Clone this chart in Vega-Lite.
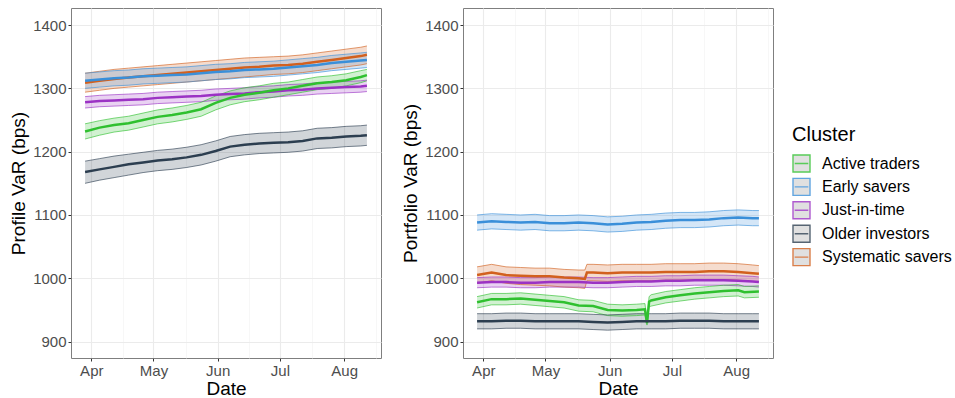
{
  "$schema": "https://vega.github.io/schema/vega-lite/v6.json",
  "background": "white",
  "padding": {"left": 9, "top": 7, "right": 5, "bottom": 5},
  "config": {
    "font": "Liberation Sans",
    "view": {"stroke": "#7f7f7f", "strokeWidth": 1},
    "axis": {
      "labelFont": "Liberation Sans", "labelFontSize": 15, "labelColor": "#4d4d4d",
      "titleFont": "Liberation Sans", "titleFontSize": 19, "titleFontWeight": "normal", "titleColor": "#000000",
      "tickColor": "#333333", "tickSize": 3, "domain": false, "labelPadding": 2, "titlePadding": 4
    },
    "axisX": {"titlePadding": 1},
    "legend": {
      "titleFont": "Liberation Sans", "titleFontSize": 20, "titleFontWeight": "normal", "titleColor": "#000000",
      "labelFont": "Liberation Sans", "labelFontSize": 16, "labelColor": "#000000",
      "symbolFillColor": "#d9d9d9"
    }
  },
  "datasets": {
    "profile": [
      {"cluster":"Systematic savers","date":"2021-03-29","var":1309,"lower":1294,"upper":1324},
      {"cluster":"Systematic savers","date":"2021-04-05","var":1312,"lower":1297,"upper":1327},
      {"cluster":"Systematic savers","date":"2021-04-12","var":1315,"lower":1300,"upper":1330},
      {"cluster":"Systematic savers","date":"2021-04-19","var":1317,"lower":1302,"upper":1332},
      {"cluster":"Systematic savers","date":"2021-04-26","var":1319,"lower":1304,"upper":1334},
      {"cluster":"Systematic savers","date":"2021-05-03","var":1321,"lower":1306,"upper":1336},
      {"cluster":"Systematic savers","date":"2021-05-10","var":1323,"lower":1308,"upper":1338},
      {"cluster":"Systematic savers","date":"2021-05-17","var":1325,"lower":1310,"upper":1340},
      {"cluster":"Systematic savers","date":"2021-05-24","var":1327,"lower":1312,"upper":1342},
      {"cluster":"Systematic savers","date":"2021-05-31","var":1329,"lower":1314,"upper":1344},
      {"cluster":"Systematic savers","date":"2021-06-07","var":1331,"lower":1316,"upper":1346},
      {"cluster":"Systematic savers","date":"2021-06-14","var":1333,"lower":1318,"upper":1348},
      {"cluster":"Systematic savers","date":"2021-06-21","var":1334,"lower":1320,"upper":1349},
      {"cluster":"Systematic savers","date":"2021-06-28","var":1336,"lower":1322,"upper":1350},
      {"cluster":"Systematic savers","date":"2021-07-05","var":1337,"lower":1323,"upper":1351},
      {"cluster":"Systematic savers","date":"2021-07-12","var":1339,"lower":1325,"upper":1353},
      {"cluster":"Systematic savers","date":"2021-07-19","var":1342,"lower":1328,"upper":1356},
      {"cluster":"Systematic savers","date":"2021-07-26","var":1345,"lower":1331,"upper":1359},
      {"cluster":"Systematic savers","date":"2021-08-02","var":1348,"lower":1334,"upper":1362},
      {"cluster":"Systematic savers","date":"2021-08-09","var":1351,"lower":1337,"upper":1365},
      {"cluster":"Systematic savers","date":"2021-08-12","var":1353,"lower":1339,"upper":1367},

      {"cluster":"Early savers","date":"2021-03-29","var":1312,"lower":1300,"upper":1324},
      {"cluster":"Early savers","date":"2021-04-05","var":1314,"lower":1302,"upper":1326},
      {"cluster":"Early savers","date":"2021-04-12","var":1316,"lower":1304,"upper":1328},
      {"cluster":"Early savers","date":"2021-04-19","var":1317,"lower":1305,"upper":1329},
      {"cluster":"Early savers","date":"2021-04-26","var":1319,"lower":1307,"upper":1331},
      {"cluster":"Early savers","date":"2021-05-03","var":1320,"lower":1308,"upper":1332},
      {"cluster":"Early savers","date":"2021-05-10","var":1321,"lower":1309,"upper":1333},
      {"cluster":"Early savers","date":"2021-05-17","var":1322,"lower":1310,"upper":1334},
      {"cluster":"Early savers","date":"2021-05-24","var":1324,"lower":1312,"upper":1336},
      {"cluster":"Early savers","date":"2021-05-31","var":1326,"lower":1314,"upper":1338},
      {"cluster":"Early savers","date":"2021-06-07","var":1327,"lower":1315,"upper":1339},
      {"cluster":"Early savers","date":"2021-06-14","var":1329,"lower":1317,"upper":1341},
      {"cluster":"Early savers","date":"2021-06-21","var":1330,"lower":1318,"upper":1342},
      {"cluster":"Early savers","date":"2021-06-28","var":1331,"lower":1319,"upper":1343},
      {"cluster":"Early savers","date":"2021-07-05","var":1333,"lower":1321,"upper":1345},
      {"cluster":"Early savers","date":"2021-07-12","var":1335,"lower":1323,"upper":1347},
      {"cluster":"Early savers","date":"2021-07-19","var":1337,"lower":1325,"upper":1349},
      {"cluster":"Early savers","date":"2021-07-26","var":1340,"lower":1328,"upper":1352},
      {"cluster":"Early savers","date":"2021-08-02","var":1342,"lower":1330,"upper":1354},
      {"cluster":"Early savers","date":"2021-08-09","var":1344,"lower":1332,"upper":1356},
      {"cluster":"Early savers","date":"2021-08-12","var":1345,"lower":1333,"upper":1357},

      {"cluster":"Just-in-time","date":"2021-03-29","var":1278,"lower":1269,"upper":1287},
      {"cluster":"Just-in-time","date":"2021-04-05","var":1280,"lower":1271,"upper":1289},
      {"cluster":"Just-in-time","date":"2021-04-12","var":1281,"lower":1272,"upper":1290},
      {"cluster":"Just-in-time","date":"2021-04-19","var":1282,"lower":1273,"upper":1291},
      {"cluster":"Just-in-time","date":"2021-04-26","var":1283,"lower":1274,"upper":1292},
      {"cluster":"Just-in-time","date":"2021-05-03","var":1285,"lower":1276,"upper":1294},
      {"cluster":"Just-in-time","date":"2021-05-10","var":1286,"lower":1277,"upper":1295},
      {"cluster":"Just-in-time","date":"2021-05-17","var":1287,"lower":1278,"upper":1296},
      {"cluster":"Just-in-time","date":"2021-05-24","var":1288,"lower":1279,"upper":1297},
      {"cluster":"Just-in-time","date":"2021-05-31","var":1290,"lower":1281,"upper":1299},
      {"cluster":"Just-in-time","date":"2021-06-07","var":1291,"lower":1282,"upper":1300},
      {"cluster":"Just-in-time","date":"2021-06-14","var":1292,"lower":1283,"upper":1301},
      {"cluster":"Just-in-time","date":"2021-06-21","var":1294,"lower":1285,"upper":1303},
      {"cluster":"Just-in-time","date":"2021-06-28","var":1295,"lower":1286,"upper":1304},
      {"cluster":"Just-in-time","date":"2021-07-05","var":1297,"lower":1288,"upper":1306},
      {"cluster":"Just-in-time","date":"2021-07-12","var":1298,"lower":1289,"upper":1307},
      {"cluster":"Just-in-time","date":"2021-07-19","var":1300,"lower":1291,"upper":1309},
      {"cluster":"Just-in-time","date":"2021-07-26","var":1301,"lower":1292,"upper":1310},
      {"cluster":"Just-in-time","date":"2021-08-02","var":1302,"lower":1293,"upper":1311},
      {"cluster":"Just-in-time","date":"2021-08-09","var":1303,"lower":1294,"upper":1312},
      {"cluster":"Just-in-time","date":"2021-08-12","var":1304,"lower":1295,"upper":1313},

      {"cluster":"Active traders","date":"2021-03-29","var":1232,"lower":1220,"upper":1244},
      {"cluster":"Active traders","date":"2021-04-05","var":1238,"lower":1226,"upper":1249},
      {"cluster":"Active traders","date":"2021-04-12","var":1242,"lower":1231,"upper":1253},
      {"cluster":"Active traders","date":"2021-04-19","var":1245,"lower":1234,"upper":1256},
      {"cluster":"Active traders","date":"2021-04-26","var":1250,"lower":1239,"upper":1261},
      {"cluster":"Active traders","date":"2021-05-03","var":1255,"lower":1244,"upper":1266},
      {"cluster":"Active traders","date":"2021-05-10","var":1258,"lower":1247,"upper":1269},
      {"cluster":"Active traders","date":"2021-05-17","var":1262,"lower":1251,"upper":1273},
      {"cluster":"Active traders","date":"2021-05-24","var":1267,"lower":1256,"upper":1278},
      {"cluster":"Active traders","date":"2021-05-31","var":1277,"lower":1266,"upper":1288},
      {"cluster":"Active traders","date":"2021-06-07","var":1285,"lower":1274,"upper":1296},
      {"cluster":"Active traders","date":"2021-06-14","var":1290,"lower":1279,"upper":1301},
      {"cluster":"Active traders","date":"2021-06-21","var":1293,"lower":1282,"upper":1304},
      {"cluster":"Active traders","date":"2021-06-28","var":1297,"lower":1286,"upper":1308},
      {"cluster":"Active traders","date":"2021-07-05","var":1300,"lower":1290,"upper":1310},
      {"cluster":"Active traders","date":"2021-07-12","var":1304,"lower":1294,"upper":1314},
      {"cluster":"Active traders","date":"2021-07-19","var":1308,"lower":1298,"upper":1318},
      {"cluster":"Active traders","date":"2021-07-26","var":1310,"lower":1300,"upper":1320},
      {"cluster":"Active traders","date":"2021-08-02","var":1313,"lower":1304,"upper":1323},
      {"cluster":"Active traders","date":"2021-08-09","var":1318,"lower":1309,"upper":1328},
      {"cluster":"Active traders","date":"2021-08-12","var":1321,"lower":1312,"upper":1330},

      {"cluster":"Older investors","date":"2021-03-29","var":1168,"lower":1150,"upper":1185},
      {"cluster":"Older investors","date":"2021-04-05","var":1172,"lower":1155,"upper":1189},
      {"cluster":"Older investors","date":"2021-04-12","var":1176,"lower":1159,"upper":1193},
      {"cluster":"Older investors","date":"2021-04-19","var":1180,"lower":1163,"upper":1196},
      {"cluster":"Older investors","date":"2021-04-26","var":1183,"lower":1167,"upper":1199},
      {"cluster":"Older investors","date":"2021-05-03","var":1186,"lower":1170,"upper":1202},
      {"cluster":"Older investors","date":"2021-05-10","var":1188,"lower":1172,"upper":1204},
      {"cluster":"Older investors","date":"2021-05-17","var":1191,"lower":1175,"upper":1207},
      {"cluster":"Older investors","date":"2021-05-24","var":1195,"lower":1179,"upper":1211},
      {"cluster":"Older investors","date":"2021-05-31","var":1201,"lower":1185,"upper":1217},
      {"cluster":"Older investors","date":"2021-06-07","var":1208,"lower":1192,"upper":1224},
      {"cluster":"Older investors","date":"2021-06-14","var":1211,"lower":1195,"upper":1227},
      {"cluster":"Older investors","date":"2021-06-21","var":1213,"lower":1197,"upper":1229},
      {"cluster":"Older investors","date":"2021-06-28","var":1214,"lower":1198,"upper":1230},
      {"cluster":"Older investors","date":"2021-07-05","var":1215,"lower":1199,"upper":1231},
      {"cluster":"Older investors","date":"2021-07-12","var":1217,"lower":1201,"upper":1233},
      {"cluster":"Older investors","date":"2021-07-19","var":1221,"lower":1205,"upper":1237},
      {"cluster":"Older investors","date":"2021-07-26","var":1222,"lower":1206,"upper":1238},
      {"cluster":"Older investors","date":"2021-08-02","var":1224,"lower":1208,"upper":1240},
      {"cluster":"Older investors","date":"2021-08-09","var":1225,"lower":1209,"upper":1241},
      {"cluster":"Older investors","date":"2021-08-12","var":1226,"lower":1210,"upper":1242}
    ],
    "portfolio": [
      {"cluster":"Early savers","date":"2021-03-29","var":1088,"lower":1076,"upper":1100},
      {"cluster":"Early savers","date":"2021-04-05","var":1090,"lower":1078,"upper":1102},
      {"cluster":"Early savers","date":"2021-04-12","var":1089,"lower":1077,"upper":1101},
      {"cluster":"Early savers","date":"2021-04-19","var":1088,"lower":1076,"upper":1100},
      {"cluster":"Early savers","date":"2021-04-26","var":1089,"lower":1077,"upper":1101},
      {"cluster":"Early savers","date":"2021-05-03","var":1087,"lower":1075,"upper":1099},
      {"cluster":"Early savers","date":"2021-05-10","var":1087,"lower":1075,"upper":1099},
      {"cluster":"Early savers","date":"2021-05-17","var":1088,"lower":1076,"upper":1100},
      {"cluster":"Early savers","date":"2021-05-24","var":1087,"lower":1075,"upper":1099},
      {"cluster":"Early savers","date":"2021-05-31","var":1085,"lower":1073,"upper":1097},
      {"cluster":"Early savers","date":"2021-06-07","var":1086,"lower":1074,"upper":1098},
      {"cluster":"Early savers","date":"2021-06-14","var":1088,"lower":1076,"upper":1100},
      {"cluster":"Early savers","date":"2021-06-21","var":1089,"lower":1077,"upper":1101},
      {"cluster":"Early savers","date":"2021-06-28","var":1091,"lower":1079,"upper":1103},
      {"cluster":"Early savers","date":"2021-07-05","var":1092,"lower":1080,"upper":1104},
      {"cluster":"Early savers","date":"2021-07-12","var":1092,"lower":1080,"upper":1104},
      {"cluster":"Early savers","date":"2021-07-19","var":1093,"lower":1081,"upper":1105},
      {"cluster":"Early savers","date":"2021-07-26","var":1095,"lower":1083,"upper":1107},
      {"cluster":"Early savers","date":"2021-08-02","var":1096,"lower":1084,"upper":1108},
      {"cluster":"Early savers","date":"2021-08-09","var":1095,"lower":1083,"upper":1107},
      {"cluster":"Early savers","date":"2021-08-12","var":1095,"lower":1083,"upper":1107},

      {"cluster":"Systematic savers","date":"2021-03-29","var":1005,"lower":992,"upper":1018},
      {"cluster":"Systematic savers","date":"2021-04-05","var":1009,"lower":996,"upper":1022},
      {"cluster":"Systematic savers","date":"2021-04-12","var":1005,"lower":992,"upper":1018},
      {"cluster":"Systematic savers","date":"2021-04-19","var":1004,"lower":990,"upper":1017},
      {"cluster":"Systematic savers","date":"2021-04-26","var":1003,"lower":989,"upper":1016},
      {"cluster":"Systematic savers","date":"2021-05-03","var":1003,"lower":988,"upper":1016},
      {"cluster":"Systematic savers","date":"2021-05-10","var":1001,"lower":986,"upper":1014},
      {"cluster":"Systematic savers","date":"2021-05-17","var":1000,"lower":985,"upper":1013},
      {"cluster":"Systematic savers","date":"2021-05-20","var":999,"lower":984,"upper":1013},
      {"cluster":"Systematic savers","date":"2021-05-21","var":1009,"lower":996,"upper":1022},
      {"cluster":"Systematic savers","date":"2021-05-24","var":1009,"lower":996,"upper":1022},
      {"cluster":"Systematic savers","date":"2021-05-31","var":1008,"lower":995,"upper":1021},
      {"cluster":"Systematic savers","date":"2021-06-07","var":1009,"lower":996,"upper":1022},
      {"cluster":"Systematic savers","date":"2021-06-14","var":1009,"lower":996,"upper":1022},
      {"cluster":"Systematic savers","date":"2021-06-21","var":1009,"lower":996,"upper":1022},
      {"cluster":"Systematic savers","date":"2021-06-28","var":1010,"lower":997,"upper":1023},
      {"cluster":"Systematic savers","date":"2021-07-05","var":1010,"lower":997,"upper":1023},
      {"cluster":"Systematic savers","date":"2021-07-12","var":1010,"lower":997,"upper":1023},
      {"cluster":"Systematic savers","date":"2021-07-19","var":1011,"lower":998,"upper":1024},
      {"cluster":"Systematic savers","date":"2021-07-26","var":1011,"lower":998,"upper":1024},
      {"cluster":"Systematic savers","date":"2021-08-02","var":1010,"lower":997,"upper":1023},
      {"cluster":"Systematic savers","date":"2021-08-09","var":1008,"lower":995,"upper":1021},
      {"cluster":"Systematic savers","date":"2021-08-12","var":1007,"lower":994,"upper":1020},

      {"cluster":"Just-in-time","date":"2021-03-29","var":993,"lower":985,"upper":1001},
      {"cluster":"Just-in-time","date":"2021-04-05","var":994,"lower":986,"upper":1002},
      {"cluster":"Just-in-time","date":"2021-04-12","var":994,"lower":986,"upper":1002},
      {"cluster":"Just-in-time","date":"2021-04-19","var":993,"lower":985,"upper":1001},
      {"cluster":"Just-in-time","date":"2021-04-26","var":993,"lower":985,"upper":1001},
      {"cluster":"Just-in-time","date":"2021-05-03","var":994,"lower":986,"upper":1002},
      {"cluster":"Just-in-time","date":"2021-05-10","var":994,"lower":986,"upper":1002},
      {"cluster":"Just-in-time","date":"2021-05-17","var":994,"lower":986,"upper":1002},
      {"cluster":"Just-in-time","date":"2021-05-24","var":993,"lower":985,"upper":1001},
      {"cluster":"Just-in-time","date":"2021-05-31","var":993,"lower":985,"upper":1001},
      {"cluster":"Just-in-time","date":"2021-06-07","var":994,"lower":986,"upper":1002},
      {"cluster":"Just-in-time","date":"2021-06-14","var":995,"lower":987,"upper":1003},
      {"cluster":"Just-in-time","date":"2021-06-21","var":995,"lower":987,"upper":1003},
      {"cluster":"Just-in-time","date":"2021-06-28","var":996,"lower":988,"upper":1004},
      {"cluster":"Just-in-time","date":"2021-07-05","var":996,"lower":988,"upper":1004},
      {"cluster":"Just-in-time","date":"2021-07-12","var":997,"lower":989,"upper":1005},
      {"cluster":"Just-in-time","date":"2021-07-19","var":997,"lower":989,"upper":1005},
      {"cluster":"Just-in-time","date":"2021-07-26","var":997,"lower":989,"upper":1005},
      {"cluster":"Just-in-time","date":"2021-08-02","var":996,"lower":988,"upper":1004},
      {"cluster":"Just-in-time","date":"2021-08-09","var":995,"lower":987,"upper":1003},
      {"cluster":"Just-in-time","date":"2021-08-12","var":994,"lower":986,"upper":1002},

      {"cluster":"Active traders","date":"2021-03-29","var":962,"lower":953,"upper":971},
      {"cluster":"Active traders","date":"2021-04-05","var":967,"lower":958,"upper":976},
      {"cluster":"Active traders","date":"2021-04-12","var":967,"lower":958,"upper":976},
      {"cluster":"Active traders","date":"2021-04-19","var":968,"lower":959,"upper":977},
      {"cluster":"Active traders","date":"2021-04-26","var":966,"lower":957,"upper":975},
      {"cluster":"Active traders","date":"2021-05-03","var":964,"lower":955,"upper":973},
      {"cluster":"Active traders","date":"2021-05-10","var":962,"lower":953,"upper":971},
      {"cluster":"Active traders","date":"2021-05-17","var":957,"lower":948,"upper":966},
      {"cluster":"Active traders","date":"2021-05-24","var":956,"lower":947,"upper":965},
      {"cluster":"Active traders","date":"2021-05-31","var":950,"lower":941,"upper":959},
      {"cluster":"Active traders","date":"2021-06-07","var":949,"lower":940,"upper":958},
      {"cluster":"Active traders","date":"2021-06-14","var":950,"lower":941,"upper":959},
      {"cluster":"Active traders","date":"2021-06-18","var":951,"lower":942,"upper":960},
      {"cluster":"Active traders","date":"2021-06-19","var":929,"lower":926,"upper":933},
      {"cluster":"Active traders","date":"2021-06-20","var":963,"lower":955,"upper":971},
      {"cluster":"Active traders","date":"2021-06-21","var":965,"lower":956,"upper":974},
      {"cluster":"Active traders","date":"2021-06-28","var":970,"lower":961,"upper":979},
      {"cluster":"Active traders","date":"2021-07-05","var":973,"lower":964,"upper":982},
      {"cluster":"Active traders","date":"2021-07-12","var":976,"lower":967,"upper":985},
      {"cluster":"Active traders","date":"2021-07-19","var":978,"lower":969,"upper":987},
      {"cluster":"Active traders","date":"2021-07-26","var":980,"lower":971,"upper":989},
      {"cluster":"Active traders","date":"2021-08-02","var":981,"lower":972,"upper":990},
      {"cluster":"Active traders","date":"2021-08-05","var":978,"lower":969,"upper":987},
      {"cluster":"Active traders","date":"2021-08-12","var":979,"lower":970,"upper":988},

      {"cluster":"Older investors","date":"2021-03-29","var":932,"lower":920,"upper":944},
      {"cluster":"Older investors","date":"2021-04-05","var":932,"lower":920,"upper":944},
      {"cluster":"Older investors","date":"2021-04-12","var":933,"lower":921,"upper":945},
      {"cluster":"Older investors","date":"2021-04-19","var":933,"lower":921,"upper":945},
      {"cluster":"Older investors","date":"2021-04-26","var":932,"lower":920,"upper":944},
      {"cluster":"Older investors","date":"2021-05-03","var":932,"lower":920,"upper":944},
      {"cluster":"Older investors","date":"2021-05-10","var":932,"lower":920,"upper":944},
      {"cluster":"Older investors","date":"2021-05-17","var":932,"lower":920,"upper":944},
      {"cluster":"Older investors","date":"2021-05-24","var":931,"lower":919,"upper":943},
      {"cluster":"Older investors","date":"2021-05-31","var":930,"lower":918,"upper":942},
      {"cluster":"Older investors","date":"2021-06-07","var":931,"lower":919,"upper":943},
      {"cluster":"Older investors","date":"2021-06-14","var":932,"lower":920,"upper":944},
      {"cluster":"Older investors","date":"2021-06-21","var":932,"lower":920,"upper":944},
      {"cluster":"Older investors","date":"2021-06-28","var":932,"lower":920,"upper":944},
      {"cluster":"Older investors","date":"2021-07-05","var":933,"lower":921,"upper":945},
      {"cluster":"Older investors","date":"2021-07-12","var":933,"lower":921,"upper":945},
      {"cluster":"Older investors","date":"2021-07-19","var":933,"lower":921,"upper":945},
      {"cluster":"Older investors","date":"2021-07-26","var":932,"lower":920,"upper":944},
      {"cluster":"Older investors","date":"2021-08-02","var":932,"lower":920,"upper":944},
      {"cluster":"Older investors","date":"2021-08-09","var":932,"lower":920,"upper":944},
      {"cluster":"Older investors","date":"2021-08-12","var":932,"lower":920,"upper":944}
    ]
  },
  "spacing": 19,
  "hconcat": [
    {
      "width": 310, "height": 350,
      "data": {"name": "profile"},
      "encoding": {
        "x": {
          "field": "date", "type": "temporal", "title": "Date",
          "scale": {"type": "utc", "nice": false, "domain": [
            {"year": 2021, "month": 3, "date": 22, "hours": 5, "utc": true},
            {"year": 2021, "month": 8, "date": 18, "hours": 19, "utc": true}]},
          "axis": {
            "values": [
              {"year": 2021, "month": 4, "date": 1, "utc": true},
              {"year": 2021, "month": 4, "date": 16, "hours": 12, "utc": true},
              {"year": 2021, "month": 5, "date": 1, "utc": true},
              {"year": 2021, "month": 5, "date": 16, "hours": 12, "utc": true},
              {"year": 2021, "month": 6, "date": 1, "utc": true},
              {"year": 2021, "month": 6, "date": 16, "utc": true},
              {"year": 2021, "month": 7, "date": 1, "utc": true},
              {"year": 2021, "month": 7, "date": 16, "hours": 12, "utc": true},
              {"year": 2021, "month": 8, "date": 1, "utc": true},
              {"year": 2021, "month": 8, "date": 16, "hours": 12, "utc": true}],
            "labelExpr": "utcdate(datum.value) === 1 ? utcFormat(datum.value, '%b') : ''",
            "tickOpacity": {"condition": {"test": "utcdate(datum.value) !== 1", "value": 0}, "value": 1},
            "gridColor": {"condition": {"test": "utcdate(datum.value) !== 1", "value": "#f4f4f4"}, "value": "#ebebeb"},
            "gridWidth": {"condition": {"test": "utcdate(datum.value) !== 1", "value": 0.7}, "value": 1.1},
            "labelOverlap": false, "labelFlush": false
          }
        }
      },
      "layer": [
        {
          "mark": {"type": "area", "opacity": 0.22},
          "encoding": {
            "y": {"field": "lower", "type": "quantitative", "title": "Profile VaR (bps)",
              "scale": {"domain": [874, 1427], "nice": false, "zero": false},
              "axis": {
                "values": [900, 950, 1000, 1050, 1100, 1150, 1200, 1250, 1300, 1350, 1400],
                "format": "d",
                "labelExpr": "datum.value % 100 === 0 ? datum.label : ''",
                "tickOpacity": {"condition": {"test": "datum.value % 100 !== 0", "value": 0}, "value": 1},
                "gridColor": {"condition": {"test": "datum.value % 100 !== 0", "value": "#f4f4f4"}, "value": "#ebebeb"},
                "gridWidth": {"condition": {"test": "datum.value % 100 !== 0", "value": 0.7}, "value": 1.1},
                "labelOverlap": false, "labelFlush": false
              }},
            "y2": {"field": "upper"},
            "fill": {"field": "cluster", "type": "nominal", "legend": null,
              "scale": {"domain": ["Systematic savers", "Older investors", "Just-in-time", "Early savers", "Active traders"],
                        "range": ["#d2601e", "#2c3e50", "#9b32c4", "#3a8fd9", "#2fc02f"]}}
          }
        },
        {
          "mark": {"type": "line", "strokeWidth": 0.8, "opacity": 0.8},
          "encoding": {
            "y": {"field": "lower", "type": "quantitative", "title": "Profile VaR (bps)"},
            "color": {"field": "cluster", "type": "nominal", "title": "Cluster",
              "scale": {"domain": ["Active traders", "Early savers", "Just-in-time", "Older investors", "Systematic savers"],
                        "range": ["#2fc02f", "#3a8fd9", "#9b32c4", "#2c3e50", "#d2601e"]},
              "legend": {
                "orient": "right", "offset": -99, "padding": 117,
                "symbolType": "M-1,-1H1V1H-1Z M-0.8,0H0.8",
                "symbolSize": 289, "symbolStrokeWidth": 1.4, "symbolFillColor": "#d9d9d9",
                "titlePadding": 9, "rowPadding": 0.4, "labelOffset": 11
              }}
          }
        },
        {
          "mark": {"type": "line", "strokeWidth": 0.8, "opacity": 0.8},
          "encoding": {
            "y": {"field": "upper", "type": "quantitative", "title": "Profile VaR (bps)"},
            "color": {"field": "cluster", "type": "nominal", "title": "Cluster",
              "legend": {
                "orient": "right", "offset": -99, "padding": 117,
                "symbolType": "M-1,-1H1V1H-1Z M-0.8,0H0.8",
                "symbolSize": 289, "symbolStrokeWidth": 1.4, "symbolFillColor": "#d9d9d9",
                "titlePadding": 9, "rowPadding": 0.4, "labelOffset": 11
              }}
          }
        },
        {
          "mark": {"type": "line", "strokeWidth": 2.5},
          "encoding": {
            "y": {"field": "var", "type": "quantitative", "title": "Profile VaR (bps)"},
            "color": {"field": "cluster", "type": "nominal", "title": "Cluster",
              "legend": {
                "orient": "right", "offset": -99, "padding": 117,
                "symbolType": "M-1,-1H1V1H-1Z M-0.8,0H0.8",
                "symbolSize": 289, "symbolStrokeWidth": 1.4, "symbolFillColor": "#d9d9d9",
                "titlePadding": 9, "rowPadding": 0.4, "labelOffset": 11
              }}
          }
        }
      ]
    },
    {
      "width": 310, "height": 350,
      "data": {"name": "portfolio"},
      "encoding": {
        "x": {
          "field": "date", "type": "temporal", "title": "Date",
          "scale": {"type": "utc", "nice": false, "domain": [
            {"year": 2021, "month": 3, "date": 22, "hours": 5, "utc": true},
            {"year": 2021, "month": 8, "date": 18, "hours": 19, "utc": true}]},
          "axis": {
            "values": [
              {"year": 2021, "month": 4, "date": 1, "utc": true},
              {"year": 2021, "month": 4, "date": 16, "hours": 12, "utc": true},
              {"year": 2021, "month": 5, "date": 1, "utc": true},
              {"year": 2021, "month": 5, "date": 16, "hours": 12, "utc": true},
              {"year": 2021, "month": 6, "date": 1, "utc": true},
              {"year": 2021, "month": 6, "date": 16, "utc": true},
              {"year": 2021, "month": 7, "date": 1, "utc": true},
              {"year": 2021, "month": 7, "date": 16, "hours": 12, "utc": true},
              {"year": 2021, "month": 8, "date": 1, "utc": true},
              {"year": 2021, "month": 8, "date": 16, "hours": 12, "utc": true}],
            "labelExpr": "utcdate(datum.value) === 1 ? utcFormat(datum.value, '%b') : ''",
            "tickOpacity": {"condition": {"test": "utcdate(datum.value) !== 1", "value": 0}, "value": 1},
            "gridColor": {"condition": {"test": "utcdate(datum.value) !== 1", "value": "#f4f4f4"}, "value": "#ebebeb"},
            "gridWidth": {"condition": {"test": "utcdate(datum.value) !== 1", "value": 0.7}, "value": 1.1},
            "labelOverlap": false, "labelFlush": false
          }
        }
      },
      "layer": [
        {
          "mark": {"type": "area", "opacity": 0.22},
          "encoding": {
            "y": {"field": "lower", "type": "quantitative", "title": "Portfolio VaR (bps)",
              "scale": {"domain": [874, 1427], "nice": false, "zero": false},
              "axis": {
                "values": [900, 950, 1000, 1050, 1100, 1150, 1200, 1250, 1300, 1350, 1400],
                "format": "d",
                "labelExpr": "datum.value % 100 === 0 ? datum.label : ''",
                "tickOpacity": {"condition": {"test": "datum.value % 100 !== 0", "value": 0}, "value": 1},
                "gridColor": {"condition": {"test": "datum.value % 100 !== 0", "value": "#f4f4f4"}, "value": "#ebebeb"},
                "gridWidth": {"condition": {"test": "datum.value % 100 !== 0", "value": 0.7}, "value": 1.1},
                "labelOverlap": false, "labelFlush": false
              }},
            "y2": {"field": "upper"},
            "fill": {"field": "cluster", "type": "nominal", "legend": null}
          }
        },
        {
          "mark": {"type": "line", "strokeWidth": 0.8, "opacity": 0.8},
          "encoding": {
            "y": {"field": "lower", "type": "quantitative", "title": "Portfolio VaR (bps)"},
            "color": {"field": "cluster", "type": "nominal", "title": "Cluster",
              "legend": {
                "orient": "right", "offset": -99, "padding": 117,
                "symbolType": "M-1,-1H1V1H-1Z M-0.8,0H0.8",
                "symbolSize": 289, "symbolStrokeWidth": 1.4, "symbolFillColor": "#d9d9d9",
                "titlePadding": 9, "rowPadding": 0.4, "labelOffset": 11
              }}
          }
        },
        {
          "mark": {"type": "line", "strokeWidth": 0.8, "opacity": 0.8},
          "encoding": {
            "y": {"field": "upper", "type": "quantitative", "title": "Portfolio VaR (bps)"},
            "color": {"field": "cluster", "type": "nominal", "title": "Cluster",
              "legend": {
                "orient": "right", "offset": -99, "padding": 117,
                "symbolType": "M-1,-1H1V1H-1Z M-0.8,0H0.8",
                "symbolSize": 289, "symbolStrokeWidth": 1.4, "symbolFillColor": "#d9d9d9",
                "titlePadding": 9, "rowPadding": 0.4, "labelOffset": 11
              }}
          }
        },
        {
          "mark": {"type": "line", "strokeWidth": 2.5},
          "encoding": {
            "y": {"field": "var", "type": "quantitative", "title": "Portfolio VaR (bps)"},
            "color": {"field": "cluster", "type": "nominal", "title": "Cluster",
              "legend": {
                "orient": "right", "offset": -99, "padding": 117,
                "symbolType": "M-1,-1H1V1H-1Z M-0.8,0H0.8",
                "symbolSize": 289, "symbolStrokeWidth": 1.4, "symbolFillColor": "#d9d9d9",
                "titlePadding": 9, "rowPadding": 0.4, "labelOffset": 11
              }}
          }
        }
      ]
    }
  ]
}
